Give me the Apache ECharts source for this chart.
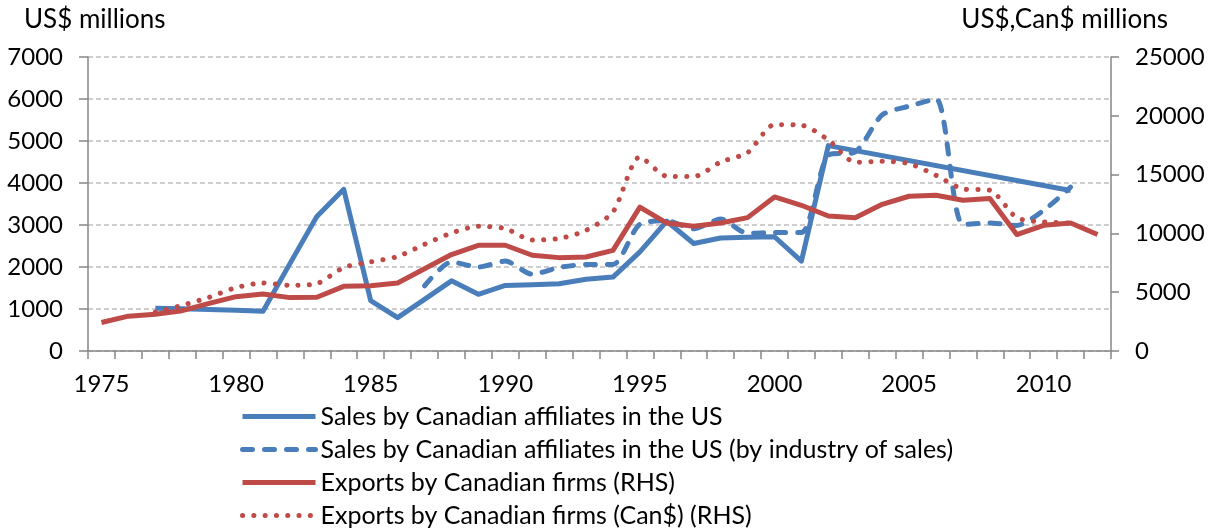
<!DOCTYPE html>
<html>
<head>
<meta charset="utf-8">
<script src="https://cdn.jsdelivr.net/npm/echarts@6/dist/echarts.min.js"></script>
<style>
  html, body { margin: 0; padding: 0; background: #fff; }
  #main { width: 1210px; height: 529px; }
</style>
</head>
<body>
<div id="main"></div>
<script>
// years on the category axis
var years = ['1975','1976','1977','1978','1979','1980','1981','1982','1983','1984',
  '1985','1986','1987','1988','1989','1990','1991','1992','1993','1994',
  '1995','1996','1997','1998','1999','2000','2001','2002','2003','2004',
  '2005','2006','2007','2008','2009','2010','2011','2012'];

// left axis, US$ millions
var salesUS = [null, null, 1020, 1005, 990, 970, 945, 2080, 3200, 3850,
  1200, 795, 1230, 1670, 1350, 1560, 1580, 1600, 1710, 1760,
  2360, 3090, 2560, 2690, 2710, 2720, 2140, 4890, null, null,
  null, null, null, null, null, null, 3820, null];
var salesIndustry = [null, null, null, null, null, null, null, null, null, null,
  null, null, 1550, 2120, 2000, 2140, 1830, 1990, 2060, 2060,
  3020, 3100, 2910, 3140, 2800, 2820, 2820, 4660, 4740, 5620,
  5830, 6000, 3010, 3050, 2990, 3350, 3900, null];

// right axis, US$ / Can$ millions
var exportsUS = [2420, 2960, 3120, 3430, 4050, 4620, 4850, 4540, 4570, 5500,
  5540, 5780, 7000, 8200, 8990, 8990, 8140, 7940, 7990, 8560,
  12240, 10880, 10600, 10880, 11340, 13100, 12390, 11480, 11340, 12470,
  13160, 13240, 12820, 12960, 9900, 10690, 10880, 9900];
var exportsCan = [null, null, 3300, 3890, 4570, 5390, 5780, 5590, 5730, 7100,
  7570, 8030, 9070, 10030, 10600, 10410, 9440, 9560, 10260, 11820,
  16500, 14860, 14830, 16070, 16870, 19250, 19200, 17950, 16050, 16130,
  15930, 14940, 13780, 13670, 11340, 10970, 10890, null];

var blue = '#4A7EBB';
var red = '#BE4B48';
var font = 'Lato';
var axisGrey = '#868686';

var myChart = echarts.init(document.getElementById('main'));

// plain numbers, no thousands separator
var plain = function (v) { return String(v); };

var option = {
  animation: false,
  backgroundColor: '#fff',
  textStyle: { fontFamily: font, color: '#000' },
  title: [
    { text: 'US$ millions', left: 19, top: 2,
      textStyle: { fontFamily: font, fontSize: 26, fontWeight: 'normal', color: '#000' } },
    { text: 'US$,Can$ millions', right: 37, top: 2,
      textStyle: { fontFamily: font, fontSize: 26, fontWeight: 'normal', color: '#000' } }
  ],
  grid: { left: 88, right: 99, top: 57, bottom: 178 },
  legend: {
    orient: 'vertical',
    left: 240,
    top: 404,
    height: 130,
    padding: 0,
    itemWidth: 73,
    itemHeight: 14,
    itemGap: 8,
    itemStyle: { opacity: 0 },
    lineStyle: { opacity: 1, width: 5 },
    textStyle: { fontFamily: font, fontSize: 25, color: '#000', lineHeight: 25 },
    data: [
      'Sales by Canadian affiliates in the US',
      'Sales by Canadian affiliates in the US (by industry of sales)',
      'Exports by Canadian firms (RHS)',
      'Exports by Canadian firms (Can$) (RHS)'
    ]
  },
  xAxis: {
    type: 'category',
    data: years,
    boundaryGap: true,
    axisLine: { lineStyle: { color: axisGrey, width: 1.5 } },
    axisTick: { show: true, interval: 0, length: 8, lineStyle: { color: axisGrey, width: 1.5 } },
    axisLabel: { interval: 4, margin: 21, fontSize: 24, color: '#000', fontFamily: font },
    splitLine: { show: false }
  },
  yAxis: [
    {
      type: 'value', min: 0, max: 7000, interval: 1000,
      axisLine: { show: true, lineStyle: { color: axisGrey, width: 1.5 } },
      axisTick: { show: true, length: 9, lineStyle: { color: axisGrey, width: 1.5 } },
      axisLabel: { margin: 25, fontSize: 24, color: '#000', fontFamily: font, formatter: plain },
      splitLine: { show: true, lineStyle: { color: '#BFBFBF', width: 1.5, type: [5, 3] } }
    },
    {
      type: 'value', min: 0, max: 25000, interval: 5000, position: 'right',
      axisLine: { show: true, lineStyle: { color: axisGrey, width: 1.5 } },
      axisTick: { show: true, length: 8, lineStyle: { color: axisGrey, width: 1.5 } },
      axisLabel: { margin: 24, fontSize: 24, color: '#000', fontFamily: font, formatter: plain },
      splitLine: { show: false }
    }
  ],
  series: [
    {
      name: 'Sales by Canadian affiliates in the US',
      type: 'line', yAxisIndex: 0, data: salesUS,
      connectNulls: true, symbol: 'none',
      lineStyle: { color: blue, width: 5, join: 'round' },
      itemStyle: { color: blue }
    },
    {
      name: 'Sales by Canadian affiliates in the US (by industry of sales)',
      type: 'line', yAxisIndex: 0, data: salesIndustry,
      symbol: 'none', smooth: 0.25,
      lineStyle: { color: blue, width: 5, type: [10, 12], cap: 'round', join: 'round' },
      itemStyle: { color: blue }
    },
    {
      name: 'Exports by Canadian firms (RHS)',
      type: 'line', yAxisIndex: 1, data: exportsUS,
      symbol: 'none',
      lineStyle: { color: red, width: 5, join: 'round' },
      itemStyle: { color: red }
    },
    {
      name: 'Exports by Canadian firms (Can$) (RHS)',
      type: 'line', yAxisIndex: 1, data: exportsCan,
      symbol: 'none', smooth: 0.25,
      lineStyle: { color: red, width: 5, type: [0.1, 11.2], cap: 'round' },
      itemStyle: { color: red }
    }
  ]
};

myChart.setOption(option);
</script>
</body>
</html>
